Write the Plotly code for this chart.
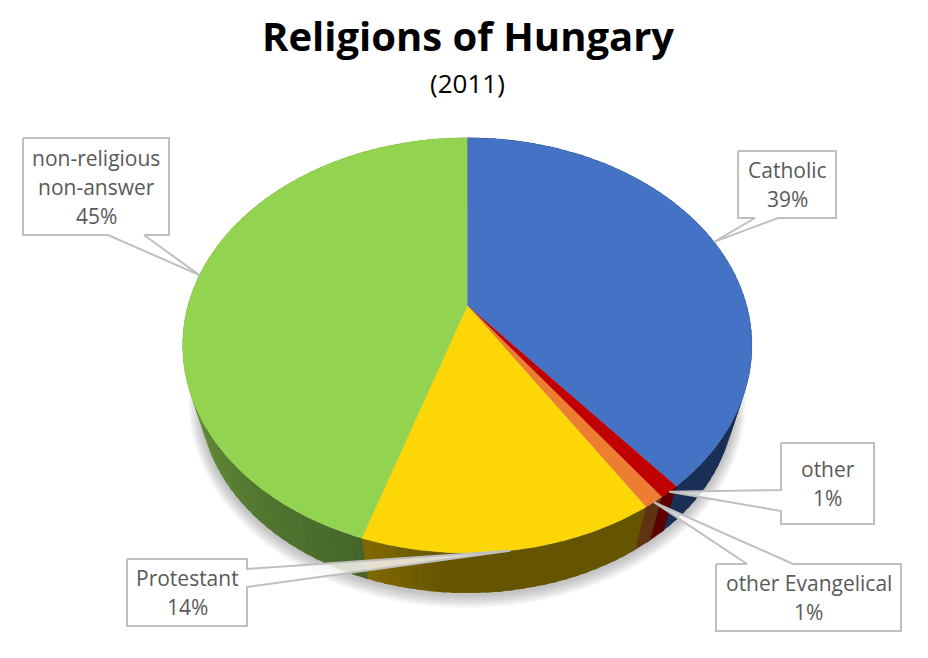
import math
import plotly.graph_objects as go

categories = ["Catholic", "other", "other Evangelical", "Protestant", "non-religious<br>non-answer"]
values = [39, 1, 1, 14, 45]
top_colors = ["#4472C4", "#C00000", "#ED7D31", "#FCD705", "#92D350"]
side_colors = [((26, 47, 85), (26, 47, 85)), ((92, 0, 0), (92, 0, 0)), ((95, 50, 18), (95, 50, 18)),
               ((102, 85, 0), (133, 106, 0)), ((69, 102, 42), (112, 156, 62))]
# callout box: left, top, right, bottom, pointer side, pointer base start, end
callouts = [
    (738, 151, 836, 218, "b", 778, 755),
    (781, 443, 874, 524, "l", 511, 490),
    (716, 564, 901, 631, "t", 747, 793),
    (127, 559, 247, 626, "r", 569, 587),
    (23, 138, 169, 235, "b", 144, 108),
]

CX, CY, A, B, P = 467.3, 305.5, 279.4, 200.0, 0.192
K, DY = 0.94, 54.9


def rim(theta, k=1.0, dy=0.0, grow=0.0):
    u, v = math.sin(theta), math.cos(theta)
    w = 1 + P * v
    return CX + (k * A + grow) * u / w, CY + dy + (k * B + grow) * (-v) / w


def mix(c0, c1, t):
    t = max(0.0, min(1.0, t))
    return "rgb(%d,%d,%d)" % tuple(round(a + (b - a) * t) for a, b in zip(c0, c1))


def poly(fig, xs, ys, fill, line=None, width=0.0):
    fig.add_trace(go.Scatter(x=xs, y=ys, mode="lines", fill="toself", fillcolor=fill,
                             line=dict(color=line or fill, width=width), hoverinfo="skip", showlegend=False))


fig = go.Figure()
total = sum(values)
angles = [0.0]
for val in values:
    angles.append(angles[-1] + 2 * math.pi * val / total)

# soft shadow
ring = [2 * math.pi * i / 180 for i in range(181)]
for g in range(11, 0, -1):
    pts = [rim(t, K, DY + 1.5, g) for t in ring]
    poly(fig, [p[0] for p in pts], [p[1] for p in pts], "rgba(90,90,90,0.04)", "rgba(0,0,0,0)", 0)

# side wall, slice by slice; each strip overlaps the next so no seams show
for i in range(len(values)):
    a0, a1 = angles[i], angles[i + 1]
    n = max(1, int((a1 - a0) / math.radians(2)))
    c0, c1 = side_colors[i]
    for j in range(n):
        t0 = a0 + (a1 - a0) * j / n
        t1 = a0 + (a1 - a0) * (j + 1) / n
        if i == 3:
            f = 1 - (a1 - t0) / math.radians(15)
        elif i == 4:
            f = (t0 - a0) / math.radians(68)
        else:
            f = 0
        if j < n - 1 or i < len(values) - 1:
            t1 += math.radians(1.0)
        p = [rim(t0), rim(t1), rim(t1, K, DY), rim(t0, K, DY)]
        poly(fig, [q[0] for q in p], [q[1] for q in p], mix(c0, c1, f))

# top faces
for i in range(len(values)):
    a0, a1 = angles[i], angles[i + 1]
    n = max(2, int((a1 - a0) / math.radians(1)))
    pts = [(CX, CY)] + [rim(a0 + (a1 - a0) * j / n) for j in range(n + 1)]
    poly(fig, [p[0] for p in pts], [p[1] for p in pts], top_colors[i], None, 0.3)

# callouts
annotations = []
for i, (l, t, r, b, side, p0, p1) in enumerate(callouts):
    tip = rim((angles[i] + angles[i + 1]) / 2)
    if side == "b":
        path = [(l, t), (r, t), (r, b), (p0, b), tip, (p1, b), (l, b)]
    elif side == "t":
        path = [(l, t), (p0, t), tip, (p1, t), (r, t), (r, b), (l, b)]
    elif side == "l":
        path = [(l, t), (r, t), (r, b), (l, b), (l, p0), tip, (l, p1)]
    else:
        path = [(l, t), (r, t), (r, p0), tip, (r, p1), (r, b), (l, b)]
    path.append(path[0])
    poly(fig, [q[0] for q in path], [q[1] for q in path], "rgba(255,255,255,0.8)", "#BFBFBF", 2)
    lines = categories[i].split("<br>") + ["%d%%" % values[i]]
    for m, text in enumerate(lines):
        annotations.append(dict(x=(l + r) / 2, y=(t + b) / 2 + (m - (len(lines) - 1) / 2) * 29,
                                xref="x", yref="y", showarrow=False, text=text, align="center",
                                font=dict(family="Open Sans", size=21, color="#595959")))

annotations.append(dict(x=467.5, y=82.5, xref="x", yref="y", showarrow=False, text="(2011)",
                        font=dict(family="Open Sans", size=26, color="#000000")))
annotations.append(dict(x=467.5, y=35.5, xref="x", yref="y", showarrow=False, text="<b>Religions of Hungary</b>",
                        font=dict(family="Open Sans", size=40, color="#000000")))

fig.update_layout(width=928, height=658, margin=dict(l=0, r=0, t=0, b=0), autosize=False,
                  paper_bgcolor="white", plot_bgcolor="white", showlegend=False,
                  annotations=annotations,
                  xaxis=dict(range=[0, 928], visible=False, fixedrange=True),
                  yaxis=dict(range=[658, 0], visible=False, fixedrange=True))
fig.write_html("out.html", config=dict(displayModeBar=False),
               post_script="document.body.style.margin='0';document.body.style.overflow='hidden';")
